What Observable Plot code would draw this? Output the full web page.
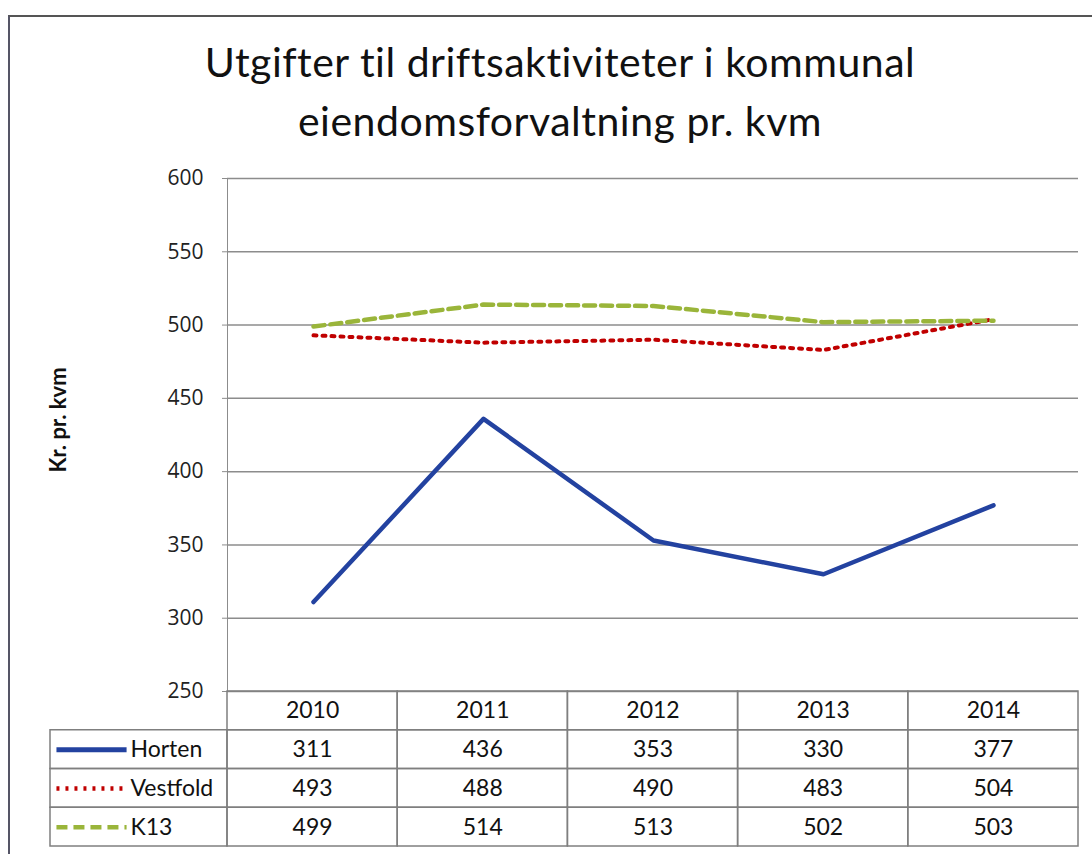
<!DOCTYPE html>
<html><head><meta charset="utf-8">
<script src="https://cdn.jsdelivr.net/npm/d3@7"></script>
<script src="https://cdn.jsdelivr.net/npm/@observablehq/plot@0.6"></script>
<style>
body{margin:0;background:#fff;}
#wrap{position:relative;width:1092px;height:854px;overflow:hidden;background:#fff;}
#border{position:absolute;left:8px;top:15px;width:1200px;height:1000px;border-left:2px solid #556;border-top:2px solid #555;}
#title{position:absolute;left:0;width:1120px;top:32px;text-align:center;font-family:Lato,"Noto Sans",sans-serif;font-size:41px;letter-spacing:0.5px;line-height:59px;color:#111;}
#ylab{position:absolute;left:57px;top:420px;transform:translate(-50%,-50%) rotate(-90deg);font-family:Lato,sans-serif;font-weight:bold;font-size:22px;white-space:nowrap;color:#111;}
#chart{position:absolute;left:0;top:168px;}
#table{position:absolute;left:0;top:690px;}
#chart svg text{fill:#222;}
</style>
</head><body>
<div id="wrap">
  <div id="border"></div>
  <div id="title">Utgifter til driftsaktiviteter i kommunal<br>eiendomsforvaltning pr. kvm</div>
  <div id="ylab">Kr. pr. kvm</div>
  <div id="chart"></div>
  <div id="table"></div>
</div>
<script>
// ---- data ----
const years = ["2010", "2011", "2012", "2013", "2014"];
const seriesNames = ["Horten", "Vestfold", "K13"];
const horten = [311, 436, 353, 330, 377];
const vestfold = [493, 488, 490, 483, 504];
const k13 = [499, 514, 513, 502, 503];
const yTicks = [250, 300, 350, 400, 450, 500, 550, 600];

// ---- styles ----
const seriesValues = {Horten: horten, Vestfold: vestfold, K13: k13};
const colors = {Horten: "#2342a0", Vestfold: "#c00000", K13: "#9ab53a"};
const dashes = {Horten: null, Vestfold: "3,6", K13: "11,6"};
const widths = {Horten: 4.5, Vestfold: 4, K13: 4.5};

const rows = seriesNames.flatMap(s => years.map((y, i) => ({series: s, year: y, value: seriesValues[s][i]})));

const W = 1092, ML = 227, MR = 14;

const lineMarks = seriesNames.map(s => Plot.line(rows.filter(d => d.series === s), {
  x: "year", y: "value", stroke: colors[s], strokeWidth: widths[s],
  strokeDasharray: dashes[s], curve: "linear", strokeLinejoin: "round"
}));

const chart = Plot.plot({
  width: W, height: 525,
  marginLeft: ML, marginRight: MR, marginTop: 10, marginBottom: 2,
  style: {fontFamily: "'Open Sans', sans-serif", fontSize: "21px", color: "#8c8c8c", overflow: "visible", background: "transparent"},
  x: {type: "point", domain: years, padding: 0.5, axis: null},
  y: {domain: [250, 600], ticks: yTicks, tickSize: 5, tickPadding: 19, label: null, line: true, tickFormat: d => String(d)},
  marks: [
    Plot.ruleY(yTicks, {stroke: "#8c8c8c", strokeWidth: 1.5}),
    ...lineMarks
  ]
});
document.getElementById("chart").appendChild(chart);

// ---- data table (drawn with Plot) ----
const legendW = 177 / 170.2;   // legend column width in column units
const cells = [];
years.forEach((y, i) => cells.push({x1: i, x2: i + 1, r: 0}));
seriesNames.forEach((s, si) => {
  cells.push({x1: -legendW, x2: 0, r: si + 1});
  years.forEach((y, i) => cells.push({x1: i, x2: i + 1, r: si + 1}));
});
const valueCells = rows.map(d => ({r: seriesNames.indexOf(d.series) + 1, c: years.indexOf(d.year), text: String(d.value)}));

const legendMarks = seriesNames.flatMap((s, si) => [
  Plot.link([s], {
    x1: -legendW + 0.035, x2: -legendW + 0.447,
    y1: si + 1.5, y2: si + 1.5,
    stroke: colors[s], strokeWidth: s === "Horten" ? 5 : 4.5, strokeDasharray: dashes[s]
  }),
  Plot.text([s], {x: -legendW + 0.47, y: si + 1.5, text: d => d, textAnchor: "start"})
]);

const table = Plot.plot({
  width: W, height: 158,
  marginLeft: 50, marginRight: MR, marginTop: 1, marginBottom: 2,
  style: {fontFamily: "Lato, 'Noto Sans', sans-serif", fontSize: "23px", color: "#111", overflow: "visible", background: "transparent"},
  x: {domain: [-legendW, years.length], axis: null},
  y: {domain: [0, 4], reverse: true, axis: null},
  marks: [
    Plot.rect(cells, {x1: "x1", x2: "x2", y1: "r", y2: d => d.r + 1, fill: "none", stroke: "#7f7f7f", strokeWidth: 1.5}),
    Plot.text(years, {x: (d, i) => i + 0.5, y: 0.5, text: d => d}),
    Plot.text(valueCells, {x: d => d.c + 0.5, y: d => d.r + 0.5, text: "text"}),
    ...legendMarks
  ]
});
document.getElementById("table").appendChild(table);
</script>
</body></html>
